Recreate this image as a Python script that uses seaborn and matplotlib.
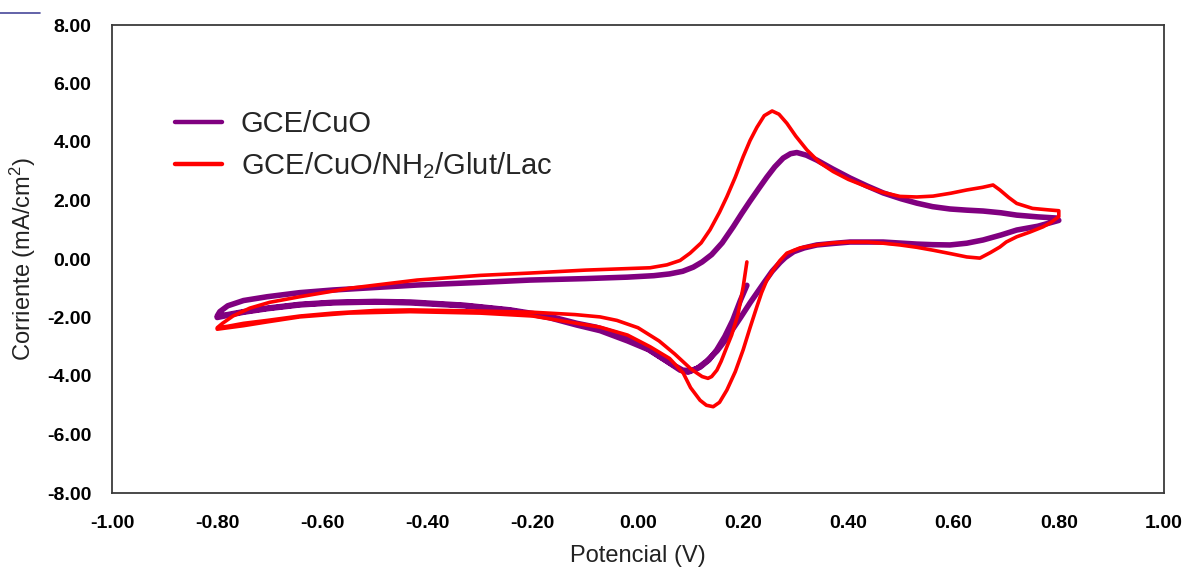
import numpy as np
import pandas as pd
import matplotlib
matplotlib.use("Agg")
import matplotlib.pyplot as plt
from matplotlib.lines import Line2D
import seaborn as sns

# ---------------- data ----------------
series_names = ["GCE/CuO", "GCE/CuO/NH$_2$/Glut/Lac"]

# GCE/CuO : potential (V) and current (mA/cm2), in scan order
cuo_V = [0.207, 0.195, 0.18, 0.165, 0.15, 0.135, 0.118, 0.10, 0.085, 0.06, 0.03, 0.0, -0.04, -0.08,
         -0.116, -0.17, -0.243, -0.33, -0.433, -0.5, -0.58, -0.643, -0.705, -0.75, -0.78, -0.80,
         -0.795, -0.78, -0.75, -0.705, -0.643, -0.58, -0.42, -0.3, -0.205, -0.1, -0.02, 0.03, 0.06,
         0.085, 0.105, 0.122, 0.14, 0.16, 0.181, 0.197, 0.213, 0.23, 0.245, 0.26, 0.276, 0.29, 0.302,
         0.32, 0.34, 0.37, 0.403, 0.435, 0.466, 0.5, 0.53, 0.56, 0.593, 0.625, 0.656, 0.69, 0.72,
         0.76, 0.796, 0.80, 0.76, 0.72, 0.69, 0.656, 0.625, 0.593, 0.56, 0.53, 0.466, 0.403, 0.37,
         0.34, 0.316, 0.296, 0.28, 0.27, 0.255, 0.24, 0.213, 0.195, 0.18, 0.165, 0.15, 0.13, 0.112,
         0.095, 0.08, 0.055, 0.02, -0.02, -0.072, -0.116, -0.17, -0.243, -0.33, -0.433, -0.5, -0.58,
         -0.643, -0.705, -0.75, -0.80]
cuo_I = [-0.9, -1.4, -2.1, -2.65, -3.1, -3.45, -3.7, -3.82, -3.8, -3.55, -3.2, -2.85, -2.55, -2.33,
         -2.2, -1.95, -1.74, -1.58, -1.47, -1.45, -1.48, -1.55, -1.68, -1.8, -1.9, -1.95,
         -1.8, -1.6, -1.42, -1.29, -1.15, -1.06, -0.89, -0.8, -0.72, -0.67, -0.62, -0.57, -0.51,
         -0.42, -0.28, -0.1, 0.15, 0.55, 1.1, 1.55, 1.98, 2.42, 2.8, 3.15, 3.45, 3.6, 3.64,
         3.55, 3.38, 3.08, 2.77, 2.5, 2.26, 2.06, 1.91, 1.79, 1.71, 1.67, 1.64, 1.58, 1.5,
         1.44, 1.4, 1.32, 1.12, 0.99, 0.82, 0.65, 0.54, 0.48, 0.49, 0.51, 0.58, 0.58, 0.53,
         0.48, 0.38, 0.25, 0.05, -0.12, -0.42, -0.8, -1.5, -2.0, -2.4, -2.8, -3.15, -3.5, -3.75,
         -3.87, -3.8, -3.5, -3.1, -2.8, -2.45, -2.26, -2.0, -1.76, -1.6, -1.5, -1.47, -1.5,
         -1.57, -1.7, -1.82, -2.0]

# GCE/CuO/NH2/Glut/Lac : potential (V) and current (mA/cm2), in scan order
lac_V = [0.207, 0.200, 0.190, 0.178, 0.169, 0.158, 0.150, 0.140, 0.133, 0.122, 0.112, 0.10, 0.07,
         0.04, 0.0, -0.04, -0.072, -0.12, -0.2, -0.3, -0.433, -0.5, -0.58, -0.643, -0.705, -0.75,
         -0.78, -0.80, -0.79, -0.77, -0.738, -0.70, -0.643, -0.548, -0.42, -0.3, -0.205, -0.1,
         0.023, 0.055, 0.08, 0.099, 0.12, 0.137, 0.155, 0.169, 0.185, 0.2, 0.213, 0.226, 0.24,
         0.255, 0.268, 0.283, 0.30, 0.321, 0.345, 0.371, 0.40, 0.435, 0.465, 0.498, 0.53, 0.561,
         0.595, 0.625, 0.655, 0.675, 0.688, 0.705, 0.72, 0.75, 0.78, 0.80, 0.80, 0.785, 0.77,
         0.745, 0.72, 0.70, 0.688, 0.67, 0.65, 0.625, 0.595, 0.561, 0.53, 0.498, 0.466, 0.435,
         0.40, 0.371, 0.34, 0.308, 0.283, 0.27, 0.258, 0.245, 0.235, 0.226, 0.213, 0.2, 0.185,
         0.169, 0.155, 0.143, 0.13, 0.118, 0.10, 0.086, 0.06, 0.023, -0.02, -0.072, -0.116, -0.2,
         -0.3, -0.433, -0.55, -0.643, -0.705, -0.75, -0.80]
lac_I = [-0.10, -0.95, -1.9, -2.6, -3.0, -3.5, -3.8, -4.02, -4.08, -4.02, -3.9, -3.75, -3.25,
         -2.8, -2.35, -2.1, -1.98, -1.9, -1.82, -1.78, -1.74, -1.76, -1.85, -1.95, -2.1, -2.2,
         -2.3, -2.35, -2.2, -1.95, -1.68, -1.48, -1.29, -1.0, -0.72, -0.56, -0.48, -0.38,
         -0.3, -0.2, -0.05, 0.2, 0.55, 1.0, 1.6, 2.13, 2.8, 3.5, 4.05, 4.5, 4.9,
         5.06, 4.95, 4.64, 4.2, 3.73, 3.3, 2.99, 2.72, 2.47, 2.28, 2.14, 2.12, 2.15,
         2.25, 2.36, 2.45, 2.53, 2.36, 2.1, 1.9, 1.73, 1.68, 1.65, 1.45, 1.25, 1.1,
         0.92, 0.76, 0.58, 0.41, 0.22, 0.03, 0.07, 0.18, 0.3, 0.4, 0.48, 0.54, 0.58,
         0.58, 0.55, 0.48, 0.38, 0.2, -0.05, -0.35, -0.72, -1.15, -1.63, -2.35, -3.1, -3.85,
         -4.48, -4.9, -5.05, -5.0, -4.83, -4.4, -3.9, -3.4, -3.0, -2.6, -2.33, -2.2, -1.95,
         -1.85, -1.8, -1.85, -1.98, -2.15, -2.28, -2.4]

x_ticks = [-1.0, -0.8, -0.6, -0.4, -0.2, 0.0, 0.2, 0.4, 0.6, 0.8, 1.0]
x_ticklabels = ["-1.00", "-0.80", "-0.60", "-0.40", "-0.20", "0.00", "0.20", "0.40", "0.60", "0.80", "1.00"]
y_ticks = [-8, -6, -4, -2, 0, 2, 4, 6, 8]
y_ticklabels = ["-8.00", "-6.00", "-4.00", "-2.00", "0.00", "2.00", "4.00", "6.00", "8.00"]

# ---------------- style ----------------
sns.set_style("white")
plt.rcParams["font.family"] = ["Liberation Sans", "DejaVu Sans"]
plt.rcParams["mathtext.fontset"] = "custom"
plt.rcParams["mathtext.rm"] = "Liberation Sans"
plt.rcParams["mathtext.it"] = "Liberation Sans:italic"

colors = {series_names[0]: "#800080", series_names[1]: "#FF0000"}

df = pd.concat([
    pd.DataFrame({"V": cuo_V, "I": cuo_I, "serie": series_names[0], "ord": np.arange(len(cuo_V))}),
    pd.DataFrame({"V": lac_V, "I": lac_I, "serie": series_names[1], "ord": np.arange(len(lac_V))}),
], ignore_index=True)

fig = plt.figure(figsize=(11.93, 5.67), dpi=100)
ax = fig.add_axes([112 / 1193, 1 - 493 / 567, (1164 - 112) / 1193, (493 - 25) / 567])

sns.lineplot(data=df[df.serie == series_names[0]], x="V", y="I", sort=False, estimator=None,
             color=colors[series_names[0]], lw=4.0, ax=ax, legend=False,
             solid_joinstyle="round", solid_capstyle="round")
sns.lineplot(data=df[df.serie == series_names[1]], x="V", y="I", sort=False, estimator=None,
             color=colors[series_names[1]], lw=2.6, ax=ax, legend=False,
             solid_joinstyle="round", solid_capstyle="round")

ax.set_xlim(-1, 1)
ax.set_ylim(-8, 8)
ax.set_xticks(x_ticks)
ax.set_xticklabels(x_ticklabels, fontsize=14, fontweight="bold", color="black")
ax.set_yticks(y_ticks)
ax.set_yticklabels(y_ticklabels, fontsize=14, fontweight="bold", color="black")
ax.tick_params(axis="x", length=0, pad=16)
ax.tick_params(axis="y", length=0, pad=15)
ax.set_xlabel("Potencial (V)", fontsize=17, labelpad=9, color="#222222")
ax.set_ylabel("Corriente (mA/cm$^2$)", fontsize=17, labelpad=6, color="#222222")
for s in ax.spines.values():
    s.set_visible(True)
    s.set_color("#3a3a3a")
    s.set_linewidth(1.3)
ax.grid(False)

handles = [Line2D([], [], color=colors[n], lw=3.2) for n in series_names]
ax.legend(handles, series_names, loc="center left", bbox_to_anchor=(0.06, 0.742),
          frameon=False, fontsize=21, handlelength=1.6, handletextpad=0.65,
          labelspacing=0.42, borderpad=0, borderaxespad=0)

# small decorative stroke at top-left corner
fig.add_artist(Line2D([0, 40 / 1193], [1 - 13 / 567, 1 - 13 / 567], color="#1a1a80", lw=1.2, alpha=0.8))

fig.savefig("out.png", dpi=100)
